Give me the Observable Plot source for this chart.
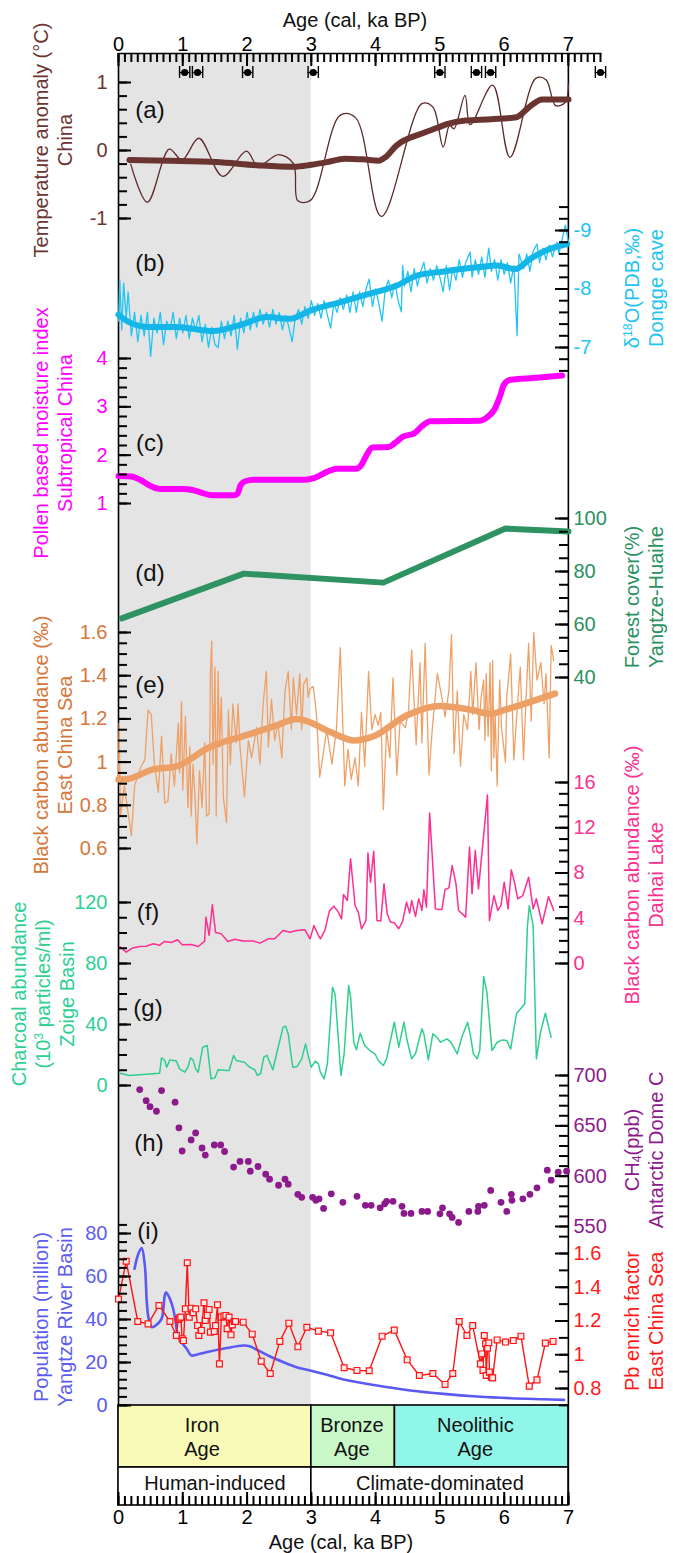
<!DOCTYPE html>
<html><head><meta charset="utf-8">
<script src="https://cdn.jsdelivr.net/npm/d3@7"></script>
<script src="https://cdn.jsdelivr.net/npm/@observablehq/plot@0.6"></script>
<style>
html,body{margin:0;padding:0;background:#fff;}
#chart{position:relative;width:673px;height:1553px;overflow:hidden;background:#fff;font-family:"Liberation Sans",Arial,Helvetica,sans-serif;}
#chart svg{position:absolute;left:0;top:0;}
.t{position:absolute;white-space:nowrap;transform:translate(-50%,-50%);font-size:20px;line-height:24px;text-align:center;}
.t.r{transform:translate(-50%,-50%) rotate(-90deg);}
.t sup{font-size:0.62em;vertical-align:0.55em;line-height:0;}
.t sub{font-size:0.62em;vertical-align:-0.2em;line-height:0;}
.p{font-size:24px;color:#111;}
</style></head><body><div id="chart"></div>
<script>
// ---------------- DATA ----------------
const topTicks = [0, 1, 2, 3, 4, 5, 6, 7];
const datingAges = [1.03, 1.23, 2.01, 3.03, 5.0, 5.57, 5.79, 7.5];
const datingErr = 0.08;

// (a) temperature anomaly, China
const tempThin = [[0.19,-0.2],[0.45,-0.76],[0.79,0.02],[0.99,-0.14],[1.25,0.18],[1.62,-0.38],[1.99,-0.01],[2.17,-0.23],[2.49,-0.06],[2.72,-0.19],[2.79,-0.74],[2.99,-0.73],[3.45,0.52],[3.69,0.48],[4.09,-0.97],[4.72,0.69],[4.89,0.64],[5.05,0.05],[5.15,0.37],[5.22,0.32],[5.39,0.81],[5.47,0.38],[5.82,0.96],[6.09,-0.1],[6.49,1.06],[6.65,1.04],[6.8,0.66],[6.95,0.71],[7.0,0.98]];
const tempThick = [[0.17,-0.14],[0.8,-0.15],[1.52,-0.17],[2.19,-0.22],[2.72,-0.24],[3.0,-0.21],[3.25,-0.17],[3.52,-0.12],[3.8,-0.13],[4.05,-0.15],[4.15,-0.1],[4.32,0.07],[4.72,0.25],[4.95,0.33],[5.12,0.39],[5.39,0.44],[5.8,0.46],[6.19,0.49],[6.39,0.64],[6.59,0.75],[7.0,0.75]];
const tempLabels = [-1, 0, 1];

// (b) d18O Dongge cave
const d18oThin = [[0,-7.45],[0.02,-8.15],[0.05,-7.3],[0.08,-8.1],[0.12,-7.5],[0.15,-7.95],[0.2,-7.2],[0.25,-7.6],[0.3,-7.1],[0.35,-7.55],[0.4,-7.2],[0.45,-7.6],[0.5,-6.85],[0.55,-7.5],[0.6,-7.25],[0.65,-7.6],[0.7,-7.05],[0.75,-7.45],[0.8,-7.3],[0.85,-7.6],[0.9,-7.15],[0.95,-7.5],[1.0,-7.25],[1.05,-7.55],[1.1,-7.15],[1.15,-7.5],[1.2,-7.3],[1.25,-7.55],[1.3,-7.1],[1.35,-7.4],[1.4,-7.0],[1.45,-7.35],[1.5,-7.05],[1.55,-7.0],[1.6,-7.45],[1.65,-7.15],[1.7,-7.45],[1.75,-7.2],[1.8,-7.55],[1.85,-6.97],[1.9,-7.5],[1.95,-7.25],[2.0,-7.6],[2.05,-7.3],[2.1,-7.6],[2.15,-7.35],[2.2,-7.65],[2.25,-7.4],[2.3,-7.6],[2.35,-7.35],[2.4,-7.65],[2.45,-7.4],[2.5,-7.6],[2.55,-7.3],[2.6,-7.55],[2.65,-7.35],[2.7,-7.1],[2.75,-7.5],[2.8,-7.65],[2.85,-7.4],[2.9,-7.7],[2.95,-7.5],[3.0,-7.8],[3.05,-7.55],[3.1,-7.75],[3.15,-7.5],[3.2,-7.8],[3.25,-7.55],[3.3,-7.33],[3.35,-7.75],[3.4,-7.6],[3.45,-7.85],[3.5,-7.65],[3.55,-7.9],[3.6,-7.6],[3.65,-7.95],[3.7,-7.6],[3.75,-7.95],[3.8,-7.7],[3.85,-8.0],[3.9,-8.17],[3.95,-7.7],[4.0,-8.0],[4.05,-7.75],[4.1,-7.45],[4.15,-8.0],[4.2,-8.15],[4.25,-7.85],[4.3,-8.1],[4.35,-7.8],[4.4,-7.61],[4.42,-8.4],[4.45,-8.05],[4.5,-8.3],[4.55,-7.95],[4.6,-8.35],[4.65,-8.05],[4.7,-8.3],[4.75,-8.46],[4.8,-8.1],[4.85,-8.35],[4.9,-8.15],[4.95,-8.4],[5.0,-8.2],[5.05,-7.95],[5.1,-8.4],[5.15,-7.98],[5.2,-8.35],[5.25,-8.15],[5.3,-8.5],[5.35,-8.2],[5.4,-8.45],[5.47,-8.63],[5.5,-8.2],[5.55,-8.5],[5.6,-8.25],[5.65,-8.55],[5.7,-8.2],[5.76,-8.7],[5.8,-8.3],[5.85,-8.5],[5.9,-8.15],[5.95,-8.5],[6.0,-8.25],[6.05,-8.45],[6.1,-8.1],[6.15,-8.4],[6.2,-7.2],[6.23,-8.6],[6.3,-8.35],[6.35,-8.6],[6.4,-8.3],[6.45,-8.65],[6.51,-8.77],[6.55,-8.45],[6.6,-8.7],[6.65,-8.5],[6.7,-8.75],[6.75,-8.55],[6.82,-8.8],[6.85,-8.6],[6.9,-8.85],[6.95,-9.09],[7.0,-8.8]];
const d18oThick = [[0,-7.56],[0.17,-7.43],[0.48,-7.35],[0.9,-7.35],[1.47,-7.28],[1.94,-7.4],[2.3,-7.52],[2.67,-7.49],[2.98,-7.63],[3.5,-7.79],[3.91,-7.92],[4.33,-8.06],[4.64,-8.23],[5.06,-8.3],[5.58,-8.37],[5.89,-8.4],[6.17,-8.34],[6.41,-8.52],[6.72,-8.69],[6.98,-8.77]];
const d18oLabels = [-9, -8, -7];

// (c) pollen moisture index
const moisture = [[0.0,1.57],[0.2,1.56],[0.35,1.48],[0.5,1.36],[0.65,1.3],[1.0,1.3],[1.15,1.28],[1.3,1.22],[1.45,1.17],[1.8,1.17],[1.85,1.2],[1.9,1.38],[1.97,1.46],[2.1,1.49],[2.9,1.49],[3.05,1.53],[3.25,1.66],[3.4,1.72],[3.7,1.72],[3.78,1.8],[3.85,1.98],[3.95,2.16],[4.2,2.17],[4.3,2.25],[4.42,2.38],[4.6,2.45],[4.72,2.6],[4.85,2.7],[5.6,2.71],[5.75,2.8],[5.85,2.95],[5.93,3.2],[6.0,3.47],[6.1,3.56],[6.5,3.6],[6.9,3.65]];
const moistureLabels = [1, 2, 3, 4];

// (d) forest cover
const forest = [[0.05,62.3],[1.95,79.2],[4.12,75.8],[6.02,96.2],[7.0,95.1]];
const forestLabels = [40, 60, 80, 100];

// (e) black carbon East China Sea
const bcEcsThin = [[0.0,0.92],[0.01,1.18],[0.03,0.75],[0.09,0.89],[0.2,0.66],[0.25,0.89],[0.35,0.98],[0.41,1.01],[0.46,1.24],[0.51,1.22],[0.56,0.98],[0.62,0.86],[0.67,1.12],[0.72,0.81],[0.77,0.82],[0.82,1.04],[0.87,0.89],[0.93,1.18],[0.95,0.95],[0.98,1.28],[1.0,0.87],[1.04,1.21],[1.08,0.79],[1.11,1.07],[1.13,0.75],[1.16,0.99],[1.19,0.84],[1.22,0.62],[1.26,0.96],[1.3,0.79],[1.34,1.09],[1.37,0.75],[1.41,0.76],[1.43,1.41],[1.45,1.56],[1.47,0.99],[1.5,1.44],[1.52,0.75],[1.55,1.42],[1.57,1.07],[1.6,1.3],[1.63,0.84],[1.68,0.72],[1.71,1.24],[1.74,0.99],[1.78,1.27],[1.83,1.09],[1.86,1.27],[1.89,1.07],[1.96,0.84],[2.02,1.1],[2.07,1.02],[2.15,1.16],[2.2,0.99],[2.25,1.27],[2.3,1.42],[2.33,1.07],[2.38,1.29],[2.43,1.1],[2.48,1.18],[2.54,1.02],[2.59,1.33],[2.64,1.42],[2.69,1.15],[2.72,1.39],[2.77,1.22],[2.82,1.41],[2.85,1.15],[2.88,1.36],[2.93,1.39],[2.95,1.3],[2.98,1.34],[3.03,1.35],[3.08,1.22],[3.13,0.93],[3.24,1.15],[3.32,0.99],[3.39,1.15],[3.45,1.53],[3.52,0.89],[3.57,1.06],[3.62,0.92],[3.68,1.02],[3.73,0.89],[3.78,1.23],[3.83,0.98],[3.89,1.42],[3.94,1.15],[3.99,1.22],[4.04,1.17],[4.08,1.23],[4.12,0.78],[4.17,1.15],[4.22,1.02],[4.27,1.39],[4.33,0.94],[4.38,1.19],[4.46,1.16],[4.51,1.23],[4.56,1.52],[4.63,1.08],[4.69,1.46],[4.72,1.09],[4.77,1.55],[4.83,0.94],[4.88,1.15],[4.96,1.41],[5.03,1.3],[5.08,1.21],[5.14,1.33],[5.18,1.59],[5.22,1.04],[5.27,1.33],[5.32,0.98],[5.37,1.22],[5.43,1.15],[5.48,1.42],[5.51,1.22],[5.56,1.46],[5.61,1.15],[5.64,1.3],[5.68,1.38],[5.7,1.1],[5.72,1.41],[5.75,1.12],[5.78,1.46],[5.8,0.96],[5.82,1.47],[5.84,1.02],[5.86,1.22],[5.89,0.89],[5.93,1.38],[5.96,1.15],[6.02,1.0],[6.04,1.3],[6.1,1.5],[6.15,1.01],[6.2,1.24],[6.25,1.44],[6.3,1.01],[6.34,1.3],[6.38,1.55],[6.42,1.19],[6.46,1.6],[6.51,1.38],[6.57,1.46],[6.62,1.27],[6.65,1.41],[6.7,1.02],[6.73,1.54],[6.77,1.47]];
const bcEcsThick = [[0,0.92],[0.1,0.92],[0.54,0.966],[0.9,0.98],[1.42,1.07],[1.94,1.12],[2.46,1.17],[2.77,1.2],[2.93,1.19],[3.24,1.147],[3.5,1.113],[3.65,1.1],[3.97,1.12],[4.48,1.216],[5.0,1.26],[5.52,1.24],[5.78,1.224],[6.04,1.245],[6.56,1.294],[6.79,1.317]];
const bcEcsLabels = [0.6, 0.8, 1, 1.2, 1.4, 1.6];

// (f) black carbon Daihai Lake
const daihai = [[0.02,1.5],[0.12,1.0],[0.22,1.38],[0.33,1.5],[0.43,1.53],[0.54,1.74],[0.64,1.62],[0.72,1.95],[0.82,1.86],[0.92,2.1],[0.99,1.65],[1.13,1.68],[1.24,1.5],[1.34,1.98],[1.36,4.1],[1.41,2.48],[1.46,5.19],[1.51,2.74],[1.6,2.62],[1.7,1.95],[1.81,2.15],[1.94,1.98],[2.09,2.0],[2.2,1.8],[2.33,2.18],[2.43,2.18],[2.56,2.92],[2.67,2.77],[2.77,2.92],[2.9,2.98],[2.98,2.18],[3.04,3.36],[3.11,2.48],[3.14,2.18],[3.21,2.92],[3.28,4.63],[3.35,5.07],[3.42,4.54],[3.47,3.95],[3.5,6.1],[3.56,5.57],[3.61,9.26],[3.68,5.13],[3.73,4.54],[3.78,3.07],[3.85,3.8],[3.88,9.76],[3.92,7.19],[3.97,9.93],[4.02,3.8],[4.08,3.75],[4.13,7.04],[4.18,4.39],[4.23,3.66],[4.29,3.6],[4.36,3.07],[4.42,3.72],[4.48,5.42],[4.53,4.45],[4.56,5.57],[4.62,4.16],[4.67,5.72],[4.72,4.69],[4.75,6.51],[4.79,4.98],[4.84,13.3],[4.93,4.83],[4.98,4.77],[5.03,4.77],[5.08,6.54],[5.14,6.69],[5.19,8.66],[5.25,7.04],[5.29,4.69],[5.4,4.1],[5.46,10.3],[5.5,6.16],[5.55,10.0],[5.6,6.6],[5.74,14.9],[5.77,3.8],[5.84,6.0],[5.9,4.69],[5.95,5.13],[6.0,7.19],[6.06,4.83],[6.11,8.28],[6.16,7.19],[6.21,5.72],[6.29,6.01],[6.38,7.63],[6.45,4.83],[6.5,5.72],[6.59,3.51],[6.69,5.93],[6.77,4.69]];
const daihaiLabels = [0, 4, 8, 12, 16];

// (g) charcoal Zoige Basin
const charcoal = [[0.02,8.1],[0.17,6.6],[0.64,8.1],[0.67,18.1],[0.72,16.4],[0.75,12.0],[0.8,16.8],[0.9,16.0],[0.95,10.9],[1.03,8.7],[1.08,12.0],[1.12,18.1],[1.16,16.8],[1.2,10.9],[1.24,8.7],[1.31,25.1],[1.38,26.2],[1.44,4.4],[1.5,5.0],[1.55,10.3],[1.68,9.8],[1.72,9.8],[1.79,19.7],[1.83,16.4],[1.96,15.3],[2.04,12.0],[2.12,10.3],[2.16,6.6],[2.21,7.7],[2.26,18.6],[2.31,19.7],[2.4,10.3],[2.46,20.8],[2.56,38.3],[2.6,38.9],[2.64,33.9],[2.71,12.0],[2.78,12.5],[2.85,17.5],[2.91,27.3],[2.95,19.7],[3.0,12.0],[3.06,16.0],[3.11,14.2],[3.14,8.7],[3.2,4.4],[3.25,14.6],[3.33,64.5],[3.37,59.7],[3.46,6.6],[3.51,20.8],[3.58,65.6],[3.61,58.0],[3.66,28.4],[3.7,23.4],[3.76,34.3],[3.83,26.2],[3.91,22.9],[3.99,20.8],[4.04,16.4],[4.12,13.1],[4.17,17.5],[4.23,29.5],[4.29,41.5],[4.36,25.1],[4.44,41.5],[4.49,29.5],[4.56,17.5],[4.62,20.8],[4.72,37.2],[4.75,33.9],[4.82,16.8],[4.89,33.9],[4.95,31.7],[5.01,28.4],[5.11,30.6],[5.17,28.4],[5.27,20.8],[5.34,31.7],[5.43,41.5],[5.47,33.9],[5.52,20.8],[5.58,17.5],[5.62,22.9],[5.68,71.5],[5.73,61.2],[5.81,22.9],[5.89,28.4],[5.97,29.9],[6.04,29.5],[6.1,23.9],[6.19,47.0],[6.32,53.6],[6.36,103.8],[6.39,118.0],[6.45,104.9],[6.5,17.5],[6.56,33.9],[6.64,47.4],[6.73,31.7]];
const charcoalLabels = [0, 40, 80, 120];

// (h) CH4 Antarctic Dome C
const ch4 = [[0.33,686],[0.43,675],[0.49,669],[0.59,664.5],[0.67,685],[0.88,673.5],[0.94,648],[0.99,625],[1.13,636],[1.2,643],[1.3,628],[1.35,621],[1.49,631],[1.59,631],[1.65,624.5],[1.79,609],[1.89,614.6],[2.02,614.6],[2.05,605],[2.17,609.6],[2.29,602],[2.35,597],[2.49,591],[2.59,597],[2.64,592],[2.79,582],[2.85,579],[3.02,579],[3.07,576],[3.12,577.5],[3.19,568],[3.31,582.5],[3.49,574],[3.71,580],[3.84,571],[3.93,571],[4.07,568.6],[4.14,572.5],[4.17,575],[4.27,575],[4.41,570],[4.44,563],[4.55,563],[4.72,565],[4.81,565],[5.0,562.6],[5.04,568.6],[5.15,562.6],[5.19,559],[5.29,554],[5.45,565],[5.59,565],[5.6,570],[5.69,571],[5.79,585.8],[5.95,574],[6.04,565],[6.11,582],[6.12,576],[6.29,577.5],[6.4,582],[6.51,588.4],[6.67,606],[6.73,596],[6.84,604],[6.97,605]];
const ch4Labels = [550, 600, 650, 700];

// (i) population Yangtze River Basin and Pb enrichment factor
const population = [[0.25,63.6],[0.3,69.8],[0.36,73.2],[0.41,65.1],[0.44,48.1],[0.47,40.3],[0.52,36.4],[0.59,37.5],[0.67,40.3],[0.72,51.2],[0.74,52.7],[0.8,49.6],[0.85,45.0],[0.89,38.8],[0.92,32.6],[0.98,29.4],[1.06,26.4],[1.13,23.3],[1.21,23.6],[1.42,25.1],[1.68,26.7],[1.94,27.9],[2.04,27.6],[2.15,26.0],[2.35,22.9],[2.56,20.2],[2.77,17.8],[2.98,16.3],[3.24,14.3],[3.5,12.1],[4.02,9.3],[4.54,7.0],[5.06,5.4],[5.58,4.2],[6.1,3.4],[6.62,2.9],[6.93,2.6]];
const popLabels = [0, 20, 40, 60, 80];
const pb = [[0,1.33],[0.12,1.554],[0.3,1.197],[0.46,1.183],[0.63,1.292],[0.8,1.197],[0.9,1.114],[0.93,1.209],[0.95,1.217],[0.97,1.223],[0.99,1.094],[1.01,1.084],[1.04,1.272],[1.07,1.545],[1.1,1.223],[1.13,1.276],[1.16,1.249],[1.2,1.272],[1.23,1.173],[1.25,1.114],[1.29,1.144],[1.33,1.308],[1.35,1.203],[1.38,1.233],[1.41,1.268],[1.43,1.134],[1.49,1.138],[1.51,1.173],[1.54,1.296],[1.57,0.946],[1.6,1.223],[1.64,1.229],[1.67,1.233],[1.69,1.154],[1.72,1.223],[1.75,1.118],[1.77,1.177],[1.8,1.197],[1.82,1.197],[1.94,1.193],[2.08,1.122],[2.22,0.962],[2.36,0.889],[2.51,1.079],[2.65,1.187],[2.79,1.047],[2.93,1.163],[3.11,1.14],[3.3,1.13],[3.51,0.923],[3.71,0.907],[3.9,0.905],[4.1,1.11],[4.29,1.146],[4.49,0.97],[4.68,0.877],[4.89,0.889],[5.08,0.824],[5.2,0.889],[5.3,1.197],[5.42,1.114],[5.51,1.173],[5.63,0.946],[5.65,1.005],[5.67,0.907],[5.69,1.114],[5.71,1.065],[5.72,0.877],[5.74,1.039],[5.76,1.071],[5.77,0.897],[5.8,0.867],[5.82,0.863],[5.89,1.088],[6.02,1.075],[6.14,1.084],[6.26,1.11],[6.39,0.814],[6.51,0.851],[6.64,1.069],[6.76,1.079]];
const pbLabels = [0.8, 1, 1.2, 1.4, 1.6];

// bottom boxes
const periodNames = ["Iron\nAge", "Bronze\nAge", "Neolithic\nAge"];
const periodStart = [0, 3.0, 4.3];
const periodEnd = [3.0, 4.3, 7.0];
const periodLabelAt = [1.3, 3.63, 5.55];
const periodColors = ["#fafab8", "#c8f7c8", "#8ff6e8"];
const forcingNames = ["Human-induced", "Climate-dominated"];
const forcingStart = [0, 3.0];
const forcingEnd = [3.0, 7.0];
const shadeSpan = [{start: 0, end: 3}];

// ---------------- LAYOUT / HELPERS ----------------
const W = 673, H = 1553, ML = 118;
const FONT = '"Liberation Sans", Arial, Helvetica, sans-serif';
const STYLE = {background: "transparent", fontFamily: FONT, fontSize: "20px", overflow: "visible"};
const TSTYLE = {background: "transparent", overflow: "visible"};
const chart = document.getElementById("chart");
const X = d => d[0], Y = d => d[1];
const steps = (a, b, s) => d3.range(Math.round((b - a) / s) + 1).map(i => +(a + i * s).toFixed(4));
const fmt = d => String(d);
const KA_PER_PX = 7 / 450;
const MINOR = 9, MAJOR = 13, TW = 2;

// axis ticks live in their own layers (inward-pointing short rules at the axis edge)
const tickLayers = [];
function addTicks(anchor, domain, range, labels, minor) {
  tickLayers.push({anchor, domain, range, labels, minor});
}
function drawTicks() {
  for (const {anchor, domain, range, labels, minor} of tickLayers) {
    const e = anchor === "left" ? 0 : 7, dir = anchor === "left" ? 1 : -1;
    chart.appendChild(Plot.plot({
      width: W, height: H, marginLeft: ML, marginRight: 105, marginTop: 0, marginBottom: 0,
      x: {domain: [0, 7], axis: null},
      y: {domain, range, axis: null},
      style: TSTYLE,
      marks: [
        Plot.ruleY(minor, {y: d => d, x1: e, x2: e + dir * MINOR * KA_PER_PX, stroke: "black", strokeWidth: TW}),
        Plot.ruleY(labels, {y: d => d, x1: e, x2: e + dir * MAJOR * KA_PER_PX, stroke: "black", strokeWidth: TW})
      ]
    }));
  }
}
function yLabels(anchor, labels, color) {
  return Plot.axisY({anchor, ticks: labels, tickSize: 0, tickPadding: anchor === "left" ? 11 : 5, tickFormat: fmt, fill: color, fontSize: 20, label: null});
}
function panel(anchor, domain, range, labels, minor, color, marks) {
  addTicks(anchor, domain, range, labels, minor);
  chart.appendChild(Plot.plot({
    width: W, height: H, marginLeft: ML, marginRight: 105, marginTop: 0, marginBottom: 0,
    x: {domain: [0, 7], axis: null},
    y: {domain, range},
    style: STYLE,
    marks: [yLabels(anchor, labels, color), ...marks]
  }));
}
// x tick band: a plot whose frame is exactly the tick band, so tickX spans it
function xTickBand(xMax, top, bottom, values) {
  chart.appendChild(Plot.plot({
    width: W, height: H, marginLeft: ML, marginRight: xMax === 7.5 ? 73 : 105, marginTop: top, marginBottom: H - bottom,
    x: {domain: [0, xMax], axis: null},
    style: TSTYLE,
    marks: [Plot.tickX(values, {x: d => d, stroke: "black", strokeWidth: TW})]
  }));
}

// background: shading, frame lines, top axis labels
chart.appendChild(Plot.plot({
  width: W, height: H, marginLeft: ML, marginRight: 73, marginTop: 53, marginBottom: H - 1505,
  x: {domain: [0, 7.5], axis: null},
  style: STYLE,
  marks: [
    Plot.rect(shadeSpan, {x1: "start", x2: "end", fill: "#e4e4e4"}),
    Plot.ruleX([0, 7], {stroke: "black", strokeWidth: 1.6}),
    Plot.frame({anchor: "top", stroke: "black", strokeWidth: 1.6}),
    Plot.axisX({anchor: "top", ticks: topTicks, tickSize: 0, tickPadding: 3, tickFormat: fmt, fill: "black", fontSize: 20, label: null})
  ]
}));

// dating markers
chart.appendChild(Plot.plot({
  width: W, height: H, marginLeft: ML, marginRight: 73, marginTop: 66, marginBottom: H - 78,
  x: {domain: [0, 7.5], axis: null},
  style: TSTYLE,
  marks: [
    Plot.ruleY(datingAges, {y: null, x1: d => d - datingErr, x2: d => d + datingErr, stroke: "black", strokeWidth: 1.2}),
    Plot.tickX(datingAges, {x: d => d - datingErr, stroke: "black", strokeWidth: 1.4}),
    Plot.tickX(datingAges, {x: d => d + datingErr, stroke: "black", strokeWidth: 1.4}),
    Plot.dot(datingAges, {x: d => d, r: 3.6, fill: "black"})
  ]
}));

// (a)
panel("left", [-1, 1], [218, 82], tempLabels, steps(-1, 1, 0.2), "#6b3532", [
  Plot.line(tempThin, {x: X, y: Y, stroke: "#5e2a28", strokeWidth: 1.3, curve: "catmull-rom"}),
  Plot.line(tempThick, {x: X, y: Y, stroke: "#6a3431", strokeWidth: 6, curve: "monotone-x", strokeLinecap: "round"})
]);
// (b)
panel("right", [-9, -7], [230, 347], d18oLabels, steps(-9.4, -6.6, 0.2), "#1ec3f3", [
  Plot.line(d18oThin, {x: X, y: Y, stroke: "#22c4f4", strokeWidth: 1.3}),
  Plot.line(d18oThick, {x: X, y: Y, stroke: "#14b6e8", strokeWidth: 6, curve: "monotone-x", strokeLinecap: "round"})
]);
// (c)
panel("left", [1, 4], [503, 358], moistureLabels, steps(1, 4, 0.2), "#ff00ff", [
  Plot.line(moisture, {x: X, y: Y, stroke: "#ff00ff", strokeWidth: 6, curve: "monotone-x", strokeLinecap: "round"})
]);
// (d)
panel("right", [40, 100], [677, 518], forestLabels, steps(40, 100, 5), "#2a9160", [
  Plot.line(forest, {x: X, y: Y, stroke: "#2e9262", strokeWidth: 6, strokeLinecap: "round"})
]);
// (e)
panel("left", [0.6, 1.6], [848, 632], bcEcsLabels, steps(0.6, 1.6, 0.05), "#d6763a", [
  Plot.line(bcEcsThin, {x: X, y: Y, stroke: "#efa067", strokeWidth: 1.3}),
  Plot.line(bcEcsThick, {x: X, y: Y, stroke: "#eda066", strokeWidth: 6.5, curve: "monotone-x", strokeLinecap: "round"})
]);
// (f)
panel("right", [0, 16], [963, 782], daihaiLabels, steps(0, 16, 1), "#fb3191", [
  Plot.line(daihai, {x: X, y: Y, stroke: "#ff2e91", strokeWidth: 1.5})
]);
// (g)
panel("left", [0, 120], [1085, 902], charcoalLabels, steps(0, 120, 10), "#2fcf94", [
  Plot.line(charcoal, {x: X, y: Y, stroke: "#2ecf8e", strokeWidth: 1.5})
]);
// (h)
panel("right", [550, 700], [1226, 1075], ch4Labels, steps(550, 700, 10), "#8c1a8c", [
  Plot.dot(ch4, {x: X, y: Y, r: 3.4, fill: "#8c1a8c"})
]);
// (i) population
panel("left", [0, 80], [1405, 1233], popLabels, steps(0, 84, 4), "#5c5cf0", [
  Plot.line(population, {x: X, y: Y, stroke: "#5a5af2", strokeWidth: 2.6, curve: "catmull-rom"})
]);
// (i) Pb
panel("right", [0.8, 1.6], [1388, 1253], pbLabels, steps(0.7, 1.7, 0.1), "#ff1a1a", [
  Plot.line(pb, {x: X, y: Y, stroke: "#ff1414", strokeWidth: 1.4}),
  Plot.dot(pb, {x: X, y: Y, symbol: "square", r: 3.3, stroke: "#ff1414", fill: "#ffe8e8", strokeWidth: 1.2})
]);

// periods row
const periods = periodNames.map((label, i) => ({label, start: periodStart[i], end: periodEnd[i], at: periodLabelAt[i], color: periodColors[i]}));
chart.appendChild(Plot.plot({
  width: W, height: H, marginLeft: ML, marginRight: 105, marginTop: 1405, marginBottom: H - 1467,
  x: {domain: [0, 7], axis: null},
  style: STYLE,
  marks: [
    Plot.rect(periods, {x1: "start", x2: "end", fill: "color", stroke: "black", strokeWidth: 1.6}),
    Plot.text(periods, {x: "at", text: "label", fontSize: 20, lineHeight: 1.18, fill: "#111"})
  ]
}));
// forcing row + bottom axis labels
const forcing = forcingNames.map((label, i) => ({label, start: forcingStart[i], end: forcingEnd[i]}));
chart.appendChild(Plot.plot({
  width: W, height: H, marginLeft: ML, marginRight: 105, marginTop: 1467, marginBottom: H - 1505,
  x: {domain: [0, 7], axis: null},
  style: STYLE,
  marks: [
    Plot.rect(forcing, {x1: "start", x2: "end", fill: "white", stroke: "black", strokeWidth: 1.6}),
    Plot.text(forcing, {x: d => (d.start + d.end) / 2, text: "label", fontSize: 20, fill: "#111", dy: -3}),
    Plot.axisX({anchor: "bottom", ticks: topTicks, tickSize: 0, tickPadding: 4, tickFormat: fmt, fill: "black", fontSize: 20, label: null})
  ]
}));

// tick layers on top of everything else
drawTicks();
xTickBand(7.5, 53, 53 + MINOR, steps(0, 7.5, 0.1));
xTickBand(7.5, 53, 53 + MAJOR, topTicks);
xTickBand(7, 1505 - MINOR, 1505, steps(0, 7, 0.1));
xTickBand(7, 1505 - MAJOR, 1505, topTicks);

// ---------------- TEXT ----------------
const texts = [
  {x: 355, y: 20, c: "#111", h: "Age (cal, ka BP)"},
  {x: 341, y: 1542, c: "#111", h: "Age (cal, ka BP)"},
  {x: 53, y: 140, c: "#6b3532", h: "Temperature anomaly (°C)<br>China", r: 1},
  {x: 644, y: 288, c: "#1ec3f3", h: "δ<sup>18</sup>O(PDB,‰)<br>Dongge cave", r: 1},
  {x: 53, y: 433, c: "#ff00ff", h: "Pollen based moisture index<br>Subtropical China", r: 1},
  {x: 644, y: 597, c: "#2a9160", h: "Forest cover(%)<br>Yangtze-Huaihe", r: 1},
  {x: 53, y: 745, c: "#d6763a", h: "Black carbon abundance (‰)<br>East China Sea", r: 1},
  {x: 644, y: 875, c: "#fb3191", h: "Black carbon abundance (‰)<br>Daihai Lake", r: 1},
  {x: 43, y: 994, c: "#2fcf94", h: "Charcoal abundance<br>(10<sup>3</sup> particles/ml)<br>Zoige Basin", r: 1},
  {x: 644, y: 1150, c: "#8c1a8c", h: "CH<sub>4</sub>(ppb)<br>Antarctic Dome C", r: 1},
  {x: 53, y: 1317, c: "#5c5cf0", h: "Population (million)<br>Yangtze River Basin", r: 1},
  {x: 644, y: 1321, c: "#ff1a1a", h: "Pb enrich factor<br>East China Sea", r: 1}
];
const letters = [["(a)",150,110],["(b)",150,263],["(c)",150,443],["(d)",150,573],["(e)",150,685],["(f)",148,912],["(g)",148,1008],["(h)",149,1143],["(i)",148,1231]];
for (const t of texts) {
  const d = document.createElement("div");
  d.className = "t" + (t.r ? " r" : "");
  d.style.left = t.x + "px"; d.style.top = t.y + "px"; d.style.color = t.c;
  d.innerHTML = t.h;
  chart.appendChild(d);
}
for (const [s, x, y] of letters) {
  const d = document.createElement("div");
  d.className = "t p";
  d.style.left = x + "px"; d.style.top = y + "px";
  d.textContent = s;
  chart.appendChild(d);
}
</script>
</body></html>
